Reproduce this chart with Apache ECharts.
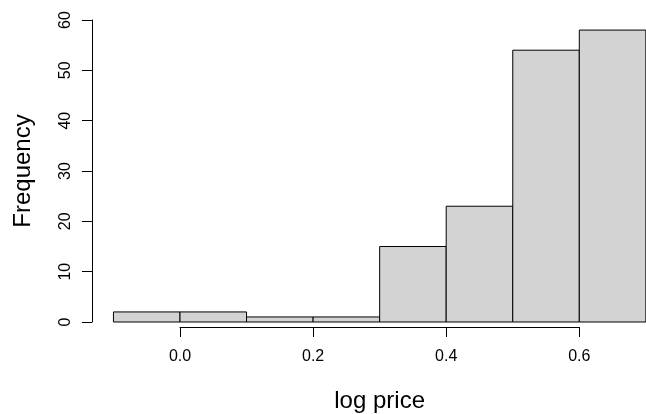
<!DOCTYPE html>
<html>
<head>
<meta charset="utf-8">
<script src="https://cdn.jsdelivr.net/npm/echarts@6/dist/echarts.min.js"></script>
<style>
html,body{margin:0;padding:0;background:#fff;}
#chart{width:646px;height:414px;}
</style>
</head>
<body>
<div id="chart"></div>
<script>
// histogram bins (log price) and counts
var binStart = [-0.1, 0.0, 0.1, 0.2, 0.3, 0.4, 0.5, 0.6];
var binEnd   = [ 0.0, 0.1, 0.2, 0.3, 0.4, 0.5, 0.6, 0.7];
var counts   = [2, 2, 1, 1, 15, 23, 54, 58];

var xTicks = [0.0, 0.2, 0.4, 0.6];
var yTicks = [0, 10, 20, 30, 40, 50, 60];

var font = 'Liberation Sans, Arial, Helvetica, sans-serif';

var barData = [];
for (var i = 0; i < counts.length; i++) {
	barData.push([binStart[i], binEnd[i], counts[i]]);
}

var chart = echarts.init(document.getElementById('chart'), null, {renderer: 'canvas'});

var option = {
	animation: false,
	backgroundColor: '#ffffff',
	grid: [
		{left: 113.45, width: 532.4, top: 20, height: 302},
		// grid that only carries the R style x axis (0 .. 0.6)
		{left: 180, width: 399.3, top: 313, height: 20}
	],
	xAxis: [{
		gridIndex: 0,
		type: 'value',
		min: -0.1,
		max: 0.7,
		show: false
	}, {
		gridIndex: 1,
		type: 'value',
		min: xTicks[0],
		max: xTicks[xTicks.length - 1],
		interval: 0.2,
		position: 'bottom',
		name: 'log price',
		nameLocation: 'middle',
		nameGap: 62,
		nameTextStyle: {fontFamily: font, fontSize: 24, color: '#000'},
		axisLine: {show: true, onZero: false, lineStyle: {color: '#000', width: 1}},
		axisTick: {show: true, inside: false, length: 10, lineStyle: {color: '#000'}},
		axisLabel: {
			margin: 22,
			fontFamily: font,
			fontSize: 16,
			color: '#000',
			formatter: function(v){ return v.toFixed(1); }
		},
		splitLine: {show: false}
	}],
	yAxis: [{
		gridIndex: 0,
		type: 'value',
		min: yTicks[0],
		max: yTicks[yTicks.length - 1],
		interval: 10,
		position: 'left',
		offset: 21.5,
		name: 'Frequency',
		nameLocation: 'middle',
		nameGap: 57,
		nameRotate: 90,
		nameTextStyle: {fontFamily: font, fontSize: 24, color: '#000'},
		axisLine: {show: true, onZero: false, lineStyle: {color: '#000', width: 1}},
		axisTick: {show: true, inside: false, length: 10, lineStyle: {color: '#000'}},
		axisLabel: {
			rotate: 90,
			margin: 18,
			fontFamily: font,
			fontSize: 16,
			color: '#000'
		},
		splitLine: {show: false}
	}, {
		gridIndex: 1,
		type: 'value',
		show: false
	}],
	series: [{
		type: 'custom',
		xAxisIndex: 0,
		yAxisIndex: 0,
		data: barData,
		encode: {x: [0, 1], y: 2},
		renderItem: function(params, api) {
			var p1 = api.coord([api.value(0), api.value(2)]);
			var p2 = api.coord([api.value(1), 0]);
			return {
				type: 'rect',
				shape: {x: p1[0], y: p1[1], width: p2[0] - p1[0], height: p2[1] - p1[1]},
				style: {fill: '#d3d3d3', stroke: '#000', lineWidth: 1}
			};
		}
	}]
};

chart.setOption(option);
</script>
</body>
</html>
